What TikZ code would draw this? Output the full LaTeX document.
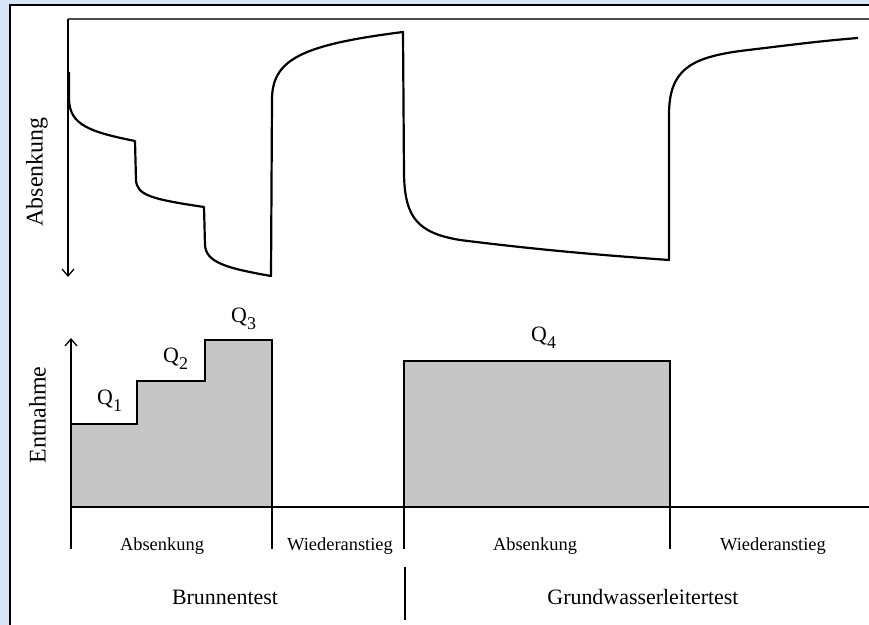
\documentclass[tikz,border=0pt]{standalone}
\usepackage{fontspec}
\setmainfont{Liberation Serif}
\usetikzlibrary{arrows.meta}
\definecolor{bgblue}{HTML}{D6E6F8}
\definecolor{fillgrey}{HTML}{C6C6C6}
\tikzset{
  curve/.style={line width=2.2bp, line join=round},
  axis/.style={line width=1.3bp},
  axarrow/.style={line width=1.3bp, -{Straight Barb[length=7bp,width=12bp,line width=1.3bp]}},
  area/.style={fill=fillgrey, draw=black, line width=1.3bp},
  small/.style={inner sep=0pt, font=\fontsize{18.5}{20}\selectfont},
  big/.style={inner sep=0pt, font=\fontsize{22}{24}\selectfont},
  axlabel/.style={inner sep=0pt, rotate=90, font=\fontsize{24}{26}\selectfont},
  qlab/.style={inner sep=0pt, anchor=base west, font=\fontsize{22}{24}\selectfont}
}
\newcommand{\qsub}[1]{Q\raisebox{-0.32em}{\fontsize{18}{18}\selectfont #1}}
\begin{document}
\begin{tikzpicture}[x=1bp,y=-1bp]
\useasboundingbox (0,0) rectangle (869,625);
\fill[bgblue] (0,0) rectangle (869,625);
\fill[white] (9.5,5.5) rectangle (869,625);
\draw[line width=2bp] (9.5,625) -- (9.5,5.5) -- (869,5.5);

% upper plot axes
\draw[line width=2bp, draw=black!70] (68,19.5) -- (869,19.5);
\draw[axarrow] (68,19.5) -- (68,277);

% drawdown curve
\draw[curve] (69,72) -- (69,100)
  .. controls (70,125) and (90,132) .. (135,141)
  -- (136,180) .. controls (137,195) and (150,199) .. (204,207)
  -- (205,245) .. controls (206,262) and (225,268) .. (271,276)
  -- (272,100) .. controls (272,60) and (300,45) .. (403,32)
  -- (404,175) .. controls (405,218) and (418,233) .. (460,240)
  .. controls (540,250) and (600,255) .. (669,260)
  -- (669,115) .. controls (669,70) and (690,58) .. (740,51)
  .. controls (790,45) and (820,41) .. (858,38);

% lower plot
\draw[area] (71,507) -- (71,424) -- (137,424) -- (137,381) -- (205,381)
  -- (205,340) -- (272,340) -- (272,507) -- cycle;
\draw[area] (404,507) rectangle (670,361);
\draw[axarrow] (71,549) -- (71,338);
\draw[axis] (71,507) -- (869,507);
\draw[axis] (272,507) -- (272,549);
\draw[axis] (404,507) -- (404,549);
\draw[axis] (670,507) -- (670,549);
\draw[axis] (405,567) -- (405,620);

% labels
\node[axlabel] (ya) at (37,172) {Absenkung};
\node[axlabel] (yb) at (37.5,415) {Entnahme};
\node[qlab] (q1) at (97,404) {\qsub{1}};
\node[qlab] (q2) at (163,362) {\qsub{2}};
\node[qlab] (q3) at (231,322) {\qsub{3}};
\node[qlab] (q4) at (531,341) {\qsub{4}};
\node[small] (p1) at (162,546) {Absenkung};
\node[small] (p2) at (340,546) {Wiederanstieg};
\node[small] (p3) at (535,546) {Absenkung};
\node[small] (p4) at (773,546) {Wiederanstieg};
\node[big] (t1) at (225,597) {Brunnentest};
\node[big] (t2) at (643,597) {Grundwasserleitertest};
\end{tikzpicture}
\end{document}
